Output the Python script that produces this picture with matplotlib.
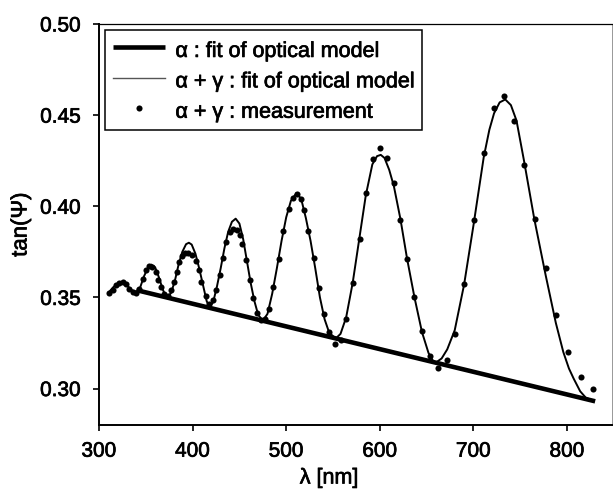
import matplotlib
matplotlib.use("Agg")
import matplotlib.pyplot as plt
import matplotlib.patheffects as pe

plt.rcParams['font.family'] = ['Liberation Sans', 'DejaVu Sans']

# alpha: fit of optical model (straight baseline)
alpha_lambda = [340, 830]
alpha_tan = [0.3540, 0.2930]

# alpha + gamma: fit of optical model
fit_lambda = [310, 315, 320, 325, 330, 335, 340,
              344, 348, 352, 356, 360, 364, 368, 371, 373,
              377, 381, 385, 389, 393, 396, 399, 403, 407, 411, 415, 418,
              422, 426, 430, 434, 438, 442, 446, 450, 454, 458, 462, 466, 470, 475,
              480, 485, 490, 495, 500, 505, 511, 516, 521, 526, 531, 536, 541, 546, 553,
              558, 564, 571, 578, 585, 592, 597, 601, 605, 610, 615, 622, 629, 637, 645, 652, 657, 660,
              666, 672, 680, 690, 700, 711, 717, 722, 728, 734, 740, 746, 754, 765, 777, 788,
              796, 802, 807, 814, 820, 828]
fit_tan = [0.3525, 0.3555, 0.3575, 0.3582, 0.3565, 0.3540, 0.3530,
           0.3555, 0.3615, 0.3660, 0.3680, 0.3665, 0.3610, 0.3545, 0.3510, 0.3500,
           0.3525, 0.3590, 0.3680, 0.3750, 0.3792, 0.3800, 0.3790, 0.3740, 0.3660, 0.3570, 0.3480, 0.3445,
           0.3475, 0.3560, 0.3660, 0.3770, 0.3860, 0.3915, 0.3932, 0.3905, 0.3820, 0.3700, 0.3580, 0.3480, 0.3405, 0.3372,
           0.3410, 0.3520, 0.3660, 0.3810, 0.3940, 0.4030, 0.4073, 0.4040, 0.3935, 0.3810, 0.3660, 0.3500, 0.3380, 0.3305, 0.3275,
           0.3300, 0.3390, 0.3580, 0.3820, 0.4060, 0.4230, 0.4275, 0.4282, 0.4265, 0.4200, 0.4110, 0.3930, 0.3715, 0.3500, 0.3310, 0.3195, 0.3150, 0.3143,
           0.3165, 0.3215, 0.3320, 0.3570, 0.3895, 0.4270, 0.4420, 0.4510, 0.4570, 0.4586, 0.4555, 0.4470, 0.4250, 0.3930, 0.3625, 0.3360,
           0.3200, 0.3110, 0.3055, 0.2985, 0.2950, 0.2932]

# alpha + gamma: measurement
meas_lambda = [311.0, 314.6, 318.1, 321.6, 325.3, 328.8, 332.3, 335.9, 339.4, 343.0,
               346.5, 350.1, 353.6, 357.1, 360.8, 363.2, 366.1, 369.6, 373.8, 377.4,
               380.2, 383.2, 385.5, 388.5, 391.7, 395.2, 399.8, 403.4, 406.9, 409.4,
               414.1, 417.6, 422.1, 425.4, 429.2, 432.8, 435.4, 439.9, 443.6, 447.1,
               450.6, 453.1, 456.7, 461.3, 464.9, 469.1, 473.4, 477.5, 481.4, 486.1,
               492.2, 496.8, 502.9, 507.3, 511.7, 515.5, 518.9, 523.2, 529.5, 534.9,
               540.2, 546.0, 551.6, 558.0, 564.0, 571.5, 578.6, 585.7, 592.9, 600.6,
               607.7, 614.8, 622.0, 629.1, 636.9, 645.0, 653.9, 661.7, 671.7, 680.6,
               690.2, 700.9, 711.5, 722.2, 732.8, 743.5, 754.2, 765.9, 777.3, 788.6,
               801.4, 814.6, 828.0]
meas_tan = [0.3524, 0.3542, 0.3566, 0.3579, 0.3584, 0.3571, 0.3548, 0.3529, 0.3524, 0.3548,
            0.3603, 0.3648, 0.3670, 0.3667, 0.3639, 0.3593, 0.3557, 0.3520, 0.3505, 0.3538,
            0.3584, 0.3639, 0.3694, 0.3725, 0.3744, 0.3744, 0.3731, 0.3700, 0.3648, 0.3584,
            0.3505, 0.3462, 0.3487, 0.3542, 0.3621, 0.3718, 0.3804, 0.3859, 0.3877, 0.3868,
            0.3844, 0.3795, 0.3707, 0.3597, 0.3498, 0.3414, 0.3374, 0.3380, 0.3438, 0.3557,
            0.3713, 0.3864, 0.3987, 0.4045, 0.4066, 0.4040, 0.3978, 0.3864, 0.3718, 0.3553,
            0.3407, 0.3310, 0.3242, 0.3268, 0.3383, 0.3579, 0.3822, 0.4075, 0.4257, 0.4320,
            0.4267, 0.4125, 0.3927, 0.3713, 0.3502, 0.3315, 0.3176, 0.3112, 0.3154, 0.3300,
            0.3575, 0.3927, 0.4293, 0.4537, 0.4604, 0.4469, 0.4225, 0.3932, 0.3661, 0.3401,
            0.3200, 0.3062, 0.2998]

x_ticks = [300, 400, 500, 600, 700, 800]
y_ticks = [0.30, 0.35, 0.40, 0.45, 0.50]

labels = ['α : fit of optical model', 'α + γ : fit of optical model', 'α + γ : measurement']

fig = plt.figure(figsize=(6.13, 4.91), dpi=100)
W, H = 613, 491
ax = fig.add_axes([99 / W, 1 - 425 / H, (612 - 99) / W, (425 - 24) / H])

ax.plot(alpha_lambda, alpha_tan, color='black', lw=3.3, solid_capstyle='butt',
        label=labels[0], zorder=2)
ax.plot(fit_lambda, fit_tan, color='black', lw=1.4, label=labels[1], zorder=3)
ax.plot(meas_lambda, meas_tan, 'o', color='black', ms=4.4, mew=0,
        label=labels[2], zorder=4)

ax.set_xlim(300, 848)
ax.set_ylim(0.28, 0.50)
ax.set_xticks(x_ticks)
ax.set_yticks(y_ticks)
ax.set_yticklabels([f'{v:.2f}' for v in y_ticks])
ax.tick_params(direction='out', length=4, width=1.2, labelsize=15)
ax.tick_params(axis='x', pad=8)
ax.tick_params(axis='y', pad=9)
ax.spines['left'].set_linewidth(1.4)
ax.spines['bottom'].set_linewidth(1.4)
ax.spines['top'].set_linewidth(0.9)
ax.spines['right'].set_linewidth(0.6)
ax.spines['right'].set_color('#888888')

ax.set_xlabel('λ [nm]', fontsize=15.5)
ax.xaxis.set_label_coords((329 - 99) / 513, (425 - 478) / 401)
ax.xaxis.label.set_verticalalignment('center')
ax.set_ylabel('tan(Ψ)', fontsize=16)
ax.yaxis.set_label_coords((21 - 99) / 513, 0.5)
ax.yaxis.label.set_verticalalignment('center')

leg = ax.legend(loc='upper left', fontsize=15.5, frameon=True, fancybox=False,
                edgecolor='black', framealpha=1, borderaxespad=0.3,
                handlelength=2.4, handletextpad=0.5, borderpad=0.35,
                handleheight=1.3, labelspacing=0.3, numpoints=1)
leg.get_frame().set_linewidth(1.1)
leg.legend_handles[1].set_color('#555555')
leg.legend_handles[1].set_linewidth(1.0)

stroke = [pe.withStroke(linewidth=0.5, foreground='black')]
for t in (ax.get_xticklabels() + ax.get_yticklabels() + leg.get_texts()
          + [ax.xaxis.label, ax.yaxis.label]):
    t.set_path_effects(stroke)

fig.savefig('out.png', dpi=100)
